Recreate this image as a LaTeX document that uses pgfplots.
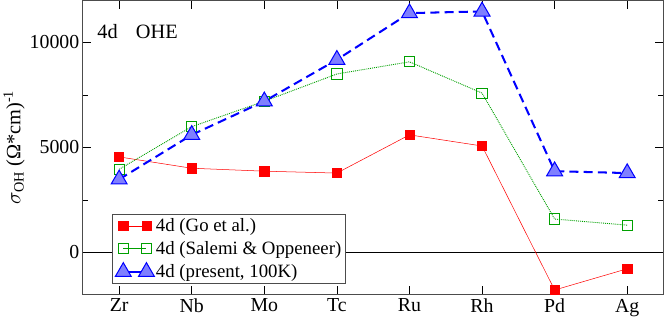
\documentclass[border=0pt]{standalone}
\usepackage{fontspec}
\setmainfont{Liberation Serif}
\usepackage{pgfplots}
\pgfplotsset{compat=1.18}
\definecolor{goRed}{HTML}{FF0000}
\definecolor{saGreen}{HTML}{00A000}
\definecolor{prBlue}{HTML}{0000FF}
\definecolor{prFill}{HTML}{7F7FFF}
\begin{document}
\begin{tikzpicture}
\begin{axis}[
  scale only axis,
  width=569bp, height=288bp,
  xmin=-0.5, xmax=7.5,
  ymin=-2000, ymax=12000,
  xtick={0,...,7},
  xticklabels={Zr,Nb,Mo,Tc,Ru,Rh,Pd,Ag},
  ytick={0,5000,10000},
  minor ytick={2500,7500},
  scaled y ticks=false,
  /pgf/number format/assume math mode=true,
  /pgf/number format/1000 sep={},
  tick align=inside,
  major tick length=8bp,
  minor tick length=5bp,
  tick style={black, line width=0.6pt},
  axis line style={black!70, line width=1pt},
  tick label style={font=\fontsize{19.5}{21}\selectfont},
  xticklabel style={yshift=-1bp},
  ylabel={$\sigma_{\mathrm{OH}}$ (Ω*cm)\textsuperscript{-1}},
  ylabel style={font=\fontsize{20}{22}\selectfont, yshift=-2bp},
  legend style={at={(0.05,0.035)}, anchor=south west, draw=black!70, line width=0.8pt,
    font=\fontsize{18.5}{20}\selectfont, row sep=5pt, inner sep=3pt,
    nodes={inner sep=1.5pt}},
  legend cell align=left,
  legend image code/.code={
    \draw[#1] (0cm,0cm) -- (0.8cm,0cm);
    \draw[#1, solid] plot coordinates {(0cm,0cm) (0.8cm,0cm)};
  },
  clip=false,
]
\draw[black, line width=0.6pt] (axis cs:-0.5,0) -- (axis cs:7.5,0);
\addplot[goRed, line width=0.5pt, mark=square*, mark size=4.5bp,
  mark options={solid, fill=goRed}]
  coordinates {(0,4550) (1,4010) (2,3870) (3,3780) (4,5600) (5,5070) (6,-1790) (7,-780)};
\addlegendentry{4d (Go et al.)}
\addplot[saGreen, line width=0.9pt, densely dotted, mark=square, mark size=5bp,
  mark options={solid, fill=white, line width=0.9pt}]
  coordinates {(0,3960) (1,5990) (2,7200) (3,8500) (4,9080) (5,7590) (6,1590) (7,1300)};
\addlegendentry{4d (Salemi \& Oppeneer)}
\addplot[prBlue, line width=2pt, dash pattern=on 9pt off 5pt, mark=triangle*, mark size=9bp,
  mark options={solid, fill=prFill, draw=prBlue, line width=1pt}]
  coordinates {(0,3480) (1,5600) (2,7200) (3,9180) (4,11400) (5,11480) (6,3870) (7,3780)};
\addlegendentry{4d (present, 100K)}
\node[anchor=base west, font=\fontsize{20}{22}\selectfont] at (axis cs:-0.35,10200) {4d\hspace{0.9em}OHE};
\end{axis}
\end{tikzpicture}
\end{document}
